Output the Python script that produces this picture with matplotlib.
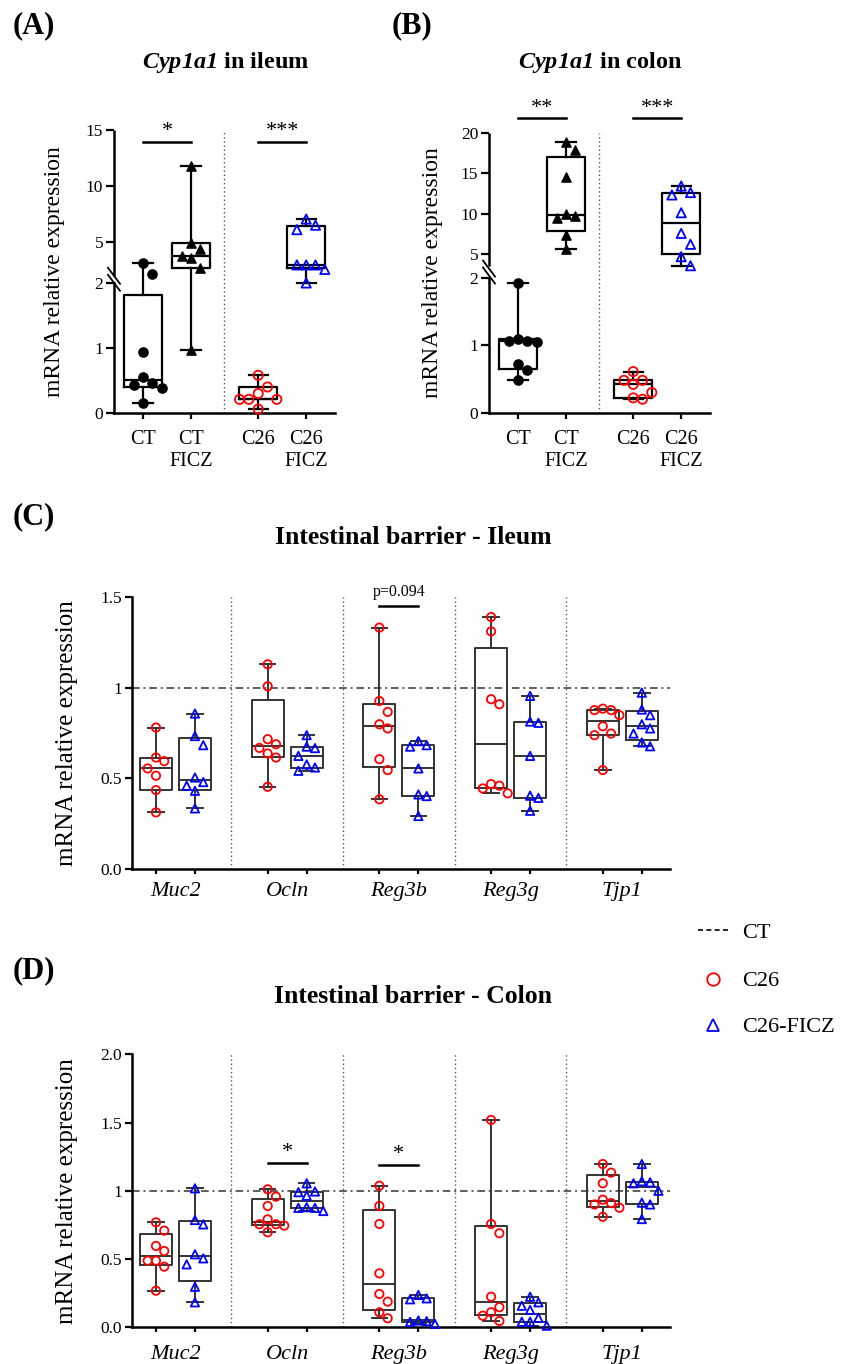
import numpy as np
import matplotlib
matplotlib.use("Agg")
import matplotlib.pyplot as plt
from matplotlib.lines import Line2D

plt.rcParams.update({
    "font.family": ["Liberation Serif", "DejaVu Serif"],
    "mathtext.fontset": "custom",
    "mathtext.rm": "Liberation Serif",
    "mathtext.it": "Liberation Serif:italic",
    "mathtext.bf": "Liberation Serif:bold",
    "mathtext.bfit": "Liberation Serif:italic:bold",
})

# ---------------- data ----------------
cyp_groups = ["CT", "CT\nFICZ", "C26", "C26\nFICZ"]

# Panel A: Cyp1a1 in ileum
ileum_ct = [3.1, 2.1, 0.94, 0.56, 0.46, 0.43, 0.38, 0.15]
ileum_ct_ficz = [11.8, 4.88, 4.38, 3.78, 3.54, 2.7, 0.97]
ileum_c26 = [0.58, 0.40, 0.30, 0.21, 0.21, 0.21, 0.06]
ileum_c26_ficz = [7.05, 6.5, 6.1, 2.95, 2.95, 2.95, 2.55, 2.0]
a_yticks = [0, 1, 2, 5, 10, 15]

# Panel B: Cyp1a1 in colon
colon_ct = [1.93, 1.10, 1.07, 1.07, 1.05, 0.73, 0.63, 0.49]
colon_ct_ficz = [18.8, 17.9, 14.5, 10.0, 9.7, 9.5, 7.35, 5.6]
colon_c26 = [0.61, 0.48, 0.48, 0.42, 0.30, 0.22, 0.20]
colon_c26_ficz = [13.4, 12.6, 12.3, 10.1, 7.55, 6.2, 4.67, 3.55]
b_yticks = [0, 1, 2, 5, 10, 15, 20]

genes = ["Muc2", "Ocln", "Reg3b", "Reg3g", "Tjp1"]

# Panel C: intestinal barrier - ileum
c_muc2_c26 = [0.78, 0.615, 0.595, 0.555, 0.515, 0.436, 0.313]
c_muc2_ficz = [0.857, 0.733, 0.683, 0.505, 0.48, 0.46, 0.432, 0.335]
c_ocln_c26 = [1.128, 1.007, 0.716, 0.688, 0.668, 0.637, 0.615, 0.454]
c_ocln_ficz = [0.738, 0.675, 0.667, 0.624, 0.577, 0.56, 0.542]
c_reg3b_c26 = [1.33, 0.926, 0.866, 0.798, 0.775, 0.606, 0.546, 0.385]
c_reg3b_ficz = [0.705, 0.683, 0.675, 0.555, 0.412, 0.403, 0.293]
c_reg3g_c26 = [1.388, 1.309, 0.936, 0.908, 0.469, 0.46, 0.445, 0.418]
c_reg3g_ficz = [0.954, 0.813, 0.806, 0.624, 0.405, 0.393, 0.322]
c_tjp1_c26 = [0.884, 0.876, 0.876, 0.848, 0.787, 0.747, 0.738, 0.546]
c_tjp1_ficz = [0.972, 0.879, 0.848, 0.798, 0.775, 0.747, 0.698, 0.677]

# Panel D: intestinal barrier - colon
d_muc2_c26 = [0.769, 0.708, 0.596, 0.559, 0.488, 0.488, 0.444, 0.268]
d_muc2_ficz = [1.018, 0.786, 0.754, 0.535, 0.505, 0.461, 0.297, 0.183]
d_ocln_c26 = [1.011, 0.957, 0.889, 0.791, 0.755, 0.755, 0.745, 0.696]
d_ocln_ficz = [1.055, 0.995, 0.99, 0.964, 0.88, 0.875, 0.875, 0.852]
d_reg3b_c26 = [1.037, 0.889, 0.757, 0.395, 0.244, 0.188, 0.11, 0.066]
d_reg3b_ficz = [0.237, 0.212, 0.205, 0.05, 0.045, 0.04, 0.025]
d_reg3g_c26 = [1.519, 0.757, 0.689, 0.224, 0.147, 0.11, 0.085, 0.046]
d_reg3g_ficz = [0.224, 0.183, 0.158, 0.127, 0.07, 0.041, 0.041, 0.012]
d_tjp1_c26 = [1.196, 1.133, 1.055, 0.935, 0.91, 0.9, 0.876, 0.81]
d_tjp1_ficz = [1.196, 1.07, 1.062, 1.055, 1.0, 0.913, 0.9, 0.793]

ct_reference = 1.0

# ---------------- figure ----------------
W, H = 845, 1364
fig = plt.figure(figsize=(W / 100, H / 100), dpi=100)


def px_axes(l, t, r, b):
    return fig.add_axes([l / W, 1 - b / H, (r - l) / W, (b - t) / H])


def box_stats(vals):
    v = np.asarray(vals, float)
    q1, med, q3 = np.percentile(v, [25, 50, 75], method="weibull")
    return dict(med=med, q1=q1, q3=q3, whislo=v.min(), whishi=v.max(), fliers=[])


def swarm(ax, xc, vals, d):
    """GraphPad-like scatter: points in the same horizontal band are spread sideways."""
    tr = ax.transData
    vals = np.asarray(vals, float)
    pts = tr.transform(np.column_stack([np.full(len(vals), xc), vals]))
    ys = pts[:, 1]
    x0 = pts[0, 0]
    order = np.argsort(-ys, kind="stable")
    placed = []
    offs = np.zeros(len(vals))
    cands = [0] + [s * k for k in range(1, 12) for s in (1, -1)]
    for i in order:
        dx = 0.0
        for k in cands:
            dx = k * 0.5 * d
            ok = all(not (abs(dx - px) < 0.95 * d and abs(ys[i] - py) < 1.35 * d)
                     for px, py in placed)
            if ok:
                break
        placed.append((dx, ys[i]))
        offs[i] = dx
    # centre the spread of each band around the group position
    inv = tr.inverted()
    return inv.transform(np.column_stack([x0 + offs, ys]))[:, 0]


def make_scale(lo_top, lo_ppu, up_start, up_start_px, up_ppu):
    lo_px = lo_top * lo_ppu

    def fwd(v):
        v = np.asarray(v, float)
        mid = lo_px + (v - lo_top) / (up_start - lo_top) * (up_start_px - lo_px)
        return np.where(v <= lo_top, v * lo_ppu,
                        np.where(v < up_start, mid, up_start_px + (v - up_start) * up_ppu))

    def inv(u):
        u = np.asarray(u, float)
        mid = lo_top + (u - lo_px) / (up_start_px - lo_px) * (up_start - lo_top)
        return np.where(u <= lo_px, u / lo_ppu,
                        np.where(u < up_start_px, mid, up_start + (u - up_start_px) / up_ppu))

    return fwd, inv


SPINE_LW = 1.8


def cyp_panel(rect, series, scale, top, yticks, sig, sig_y, title, title_x, ylabel_x):
    ax = px_axes(*rect)
    lo_top, lo_ppu, up_start, up_start_px, up_ppu = scale
    fwd, inv = make_scale(*scale)
    ax.set_yscale("function", functions=(fwd, inv))
    positions = [1, 2, 3.4, 4.4]
    xl = (0.396, 5.0)
    ax.set_xlim(*xl)
    ax.set_ylim(0, top)
    ax.set_yticks(yticks, labels=[str(t) for t in yticks])
    ax.set_xticks(positions, labels=cyp_groups)
    ax.tick_params(axis="y", length=5.8, width=1.6, labelsize=12.5, pad=2)
    ax.tick_params(axis="x", length=4.3, width=1.6, labelsize=14.5, pad=8)
    for s in ["top", "right", "left"]:
        ax.spines[s].set_visible(False)
    ax.spines["bottom"].set_linewidth(SPINE_LW)
    # broken left spine
    ax.plot([xl[0], xl[0]], [0, lo_top], color="k", lw=SPINE_LW, clip_on=False,
            solid_capstyle="projecting", zorder=5)
    ax.plot([xl[0], xl[0]], [up_start, top], color="k", lw=SPINE_LW, clip_on=False,
            solid_capstyle="butt", zorder=5)
    hpx = float(fwd(top))
    wpx = rect[2] - rect[0]
    yc = (lo_top * lo_ppu + up_start_px) / 2 / hpx
    for off in (-3.5, 3.5):
        ax.plot([-6 / wpx, 6 / wpx], [yc + (off + 8) / hpx, yc + (off - 8) / hpx],
                transform=ax.transAxes, color="k", lw=1.3, clip_on=False, zorder=6)
    # separator
    ax.axvline((positions[1] + positions[2]) / 2 - 0.02, color="#555555", lw=1.0,
               ls=(0, (1, 2)), zorder=1)
    # boxes
    ax.bxp([box_stats(v) for v in series], positions=positions, widths=0.79,
           showfliers=False, capwidths=0.4, manage_ticks=False,
           boxprops=dict(color="k", lw=1.6), whiskerprops=dict(color="k", lw=1.6),
           capprops=dict(color="k", lw=1.6), medianprops=dict(color="k", lw=1.6),
           zorder=2)
    styles = [dict(marker="o", c="k"), dict(marker="^", c="k"),
              dict(marker="o", facecolors="none", edgecolors="#ff0000", linewidths=1.3),
              dict(marker="^", facecolors="none", edgecolors="#0000ff", linewidths=1.3)]
    for p, v, st in zip(positions, series, styles):
        xs = swarm(ax, p, v, 9.3)
        ax.scatter(xs, v, s=44, zorder=3, clip_on=False, **st)
    for (txt, i, j) in sig:
        ax.plot([positions[i], positions[j]], [sig_y, sig_y], color="k", lw=1.8,
                clip_on=False)
        ax.annotate(txt, ((positions[i] + positions[j]) / 2, sig_y), xytext=(0, 4),
                    textcoords="offset points", ha="center", va="baseline",
                    fontsize=16, annotation_clip=False)
    ax.set_ylabel("mRNA relative expression", fontsize=17)
    ax.yaxis.set_label_coords(ylabel_x, 0.5)
    fig.text(title_x / W, 1 - 68 / H, title, ha="center", va="baseline",
             fontsize=17.5, fontweight="bold")
    return ax


cyp_panel((114, 130, 335, 413), [ileum_ct, ileum_ct_ficz, ileum_c26, ileum_c26_ficz],
          (2.0, 65.0, 2.0001, 137.4, 11.2), 15, a_yticks,
          [("*", 0, 1), ("***", 2, 3)], 13.96,
          r"$\mathbfit{Cyp1a1}$ in ileum", 226, -0.222)
cyp_panel((489, 132.7, 710, 412.7), [colon_ct, colon_ct_ficz, colon_c26, colon_c26_ficz],
          (2.0, 67.4, 3.5, 146.6, 8.09), 20, b_yticks,
          [("**", 0, 1), ("***", 2, 3)], 21.77,
          r"$\mathbfit{Cyp1a1}$ in colon", 600, -0.207)


def barrier_panel(rect, c26_list, ficz_list, top, yticks, ylabels, sig, title,
                  title_y, label_pad):
    ax = px_axes(*rect)
    ax.set_xlim(-0.389, 4.427)
    ax.set_ylim(0, top)
    g = np.arange(len(genes))
    dx = 0.1746
    pos_a = g - dx
    pos_b = g + dx
    pairs = np.sort(np.concatenate([pos_a, pos_b]))
    ax.set_xticks(pairs, labels=[""] * len(pairs))
    ax.set_xticks(g, labels=genes, minor=True, fontstyle="italic", fontsize=16)
    ax.tick_params(axis="x", which="major", length=3.8, width=1.6)
    ax.tick_params(axis="x", which="minor", length=0, pad=label_pad)
    ax.set_yticks(yticks, labels=ylabels)
    ax.tick_params(axis="y", length=5, width=1.6, labelsize=12.5, pad=2)
    for s in ["top", "right"]:
        ax.spines[s].set_visible(False)
    for s in ["left", "bottom"]:
        ax.spines[s].set_linewidth(SPINE_LW)
    for sx in g[:-1] + 0.5:
        ax.axvline(sx, color="#555555", lw=1.0, ls=(0, (1, 2)), zorder=1)
    ax.axhline(ct_reference, color="#333333", lw=1.1, ls=(0, (5, 2.5, 1.3, 2.5)),
               zorder=1.5)
    bprops = dict(color="#333333", lw=1.4)
    ax.bxp([box_stats(v) for v in c26_list] + [box_stats(v) for v in ficz_list],
           positions=list(pos_a) + list(pos_b), widths=0.2865, showfliers=False,
           capwidths=0.14, manage_ticks=False, boxprops=bprops, whiskerprops=bprops,
           capprops=bprops, medianprops=bprops, zorder=2)
    for p, v in zip(pos_a, c26_list):
        xs = swarm(ax, p, v, 8.3)
        ax.scatter(xs, v, s=36, marker="o", facecolors="none", edgecolors="#ff0000",
                   linewidths=1.3, zorder=3, clip_on=False)
    for p, v in zip(pos_b, ficz_list):
        xs = swarm(ax, p, v, 8.3)
        ax.scatter(xs, v, s=36, marker="^", facecolors="none", edgecolors="#0000ff",
                   linewidths=1.3, zorder=3, clip_on=False)
    for (txt, gi, yv, fs, off) in sig:
        ax.plot([pos_a[gi], pos_b[gi]], [yv, yv], color="k", lw=1.8, clip_on=False)
        ax.annotate(txt, (g[gi], yv), xytext=(0, off), textcoords="offset points",
                    ha="center", va="baseline", fontsize=fs, annotation_clip=False)
    ax.set_ylabel("mRNA relative expression", fontsize=18)
    ax.yaxis.set_label_coords(-0.10, 0.5)
    fig.text(413 / W, 1 - title_y / H, title, ha="center",
             va="baseline", fontsize=18.5, fontweight="bold")
    return ax


barrier_panel((132, 596.7, 670, 869.3),
              [c_muc2_c26, c_ocln_c26, c_reg3b_c26, c_reg3g_c26, c_tjp1_c26],
              [c_muc2_ficz, c_ocln_ficz, c_reg3b_ficz, c_reg3g_ficz, c_tjp1_ficz],
              1.5, [0, 0.5, 1, 1.5], ["0.0", "0.5", "1", "1.5"],
              [("p=0.094", 2, 1.448, 11.5, 7)],
              "Intestinal barrier - Ileum", 544, 8.9)
barrier_panel((132, 1054.3, 670, 1327.3),
              [d_muc2_c26, d_ocln_c26, d_reg3b_c26, d_reg3g_c26, d_tjp1_c26],
              [d_muc2_ficz, d_ocln_ficz, d_reg3b_ficz, d_reg3g_ficz, d_tjp1_ficz],
              2.0, [0, 0.5, 1, 1.5, 2.0], ["0.0", "0.5", "1", "1.5", "2.0"],
              [("*", 1, 1.206, 16, 4), ("*", 2, 1.189, 16, 4)],
              "Intestinal barrier - Colon", 1003, 12.5)

# panel letters
for txt, x, y in [("(A)", 13, 33), ("(B)", 392, 33), ("(C)", 13, 524), ("(D)", 13, 978)]:
    fig.text(x / W, 1 - y / H, txt, fontsize=22, fontweight="bold", va="baseline")

# legend
fig.add_artist(Line2D([698 / W, 728 / W], [1 - 930 / H, 1 - 930 / H], color="k", lw=1.2,
                      ls=(0, (3, 2)), transform=fig.transFigure))
fig.add_artist(Line2D([713 / W], [1 - 979 / H], marker="o", mfc="none", mec="#ff0000",
                      mew=1.3, ms=9, transform=fig.transFigure))
fig.add_artist(Line2D([713 / W], [1 - 1025 / H], marker="^", mfc="none", mec="#0000ff",
                      mew=1.3, ms=9, transform=fig.transFigure))
for txt, y in [("CT", 930), ("C26", 979), ("C26-FICZ", 1025)]:
    fig.text(742 / W, 1 - (y + 7.5) / H, txt, fontsize=16, va="baseline")

fig.savefig("out.png", dpi=100)
